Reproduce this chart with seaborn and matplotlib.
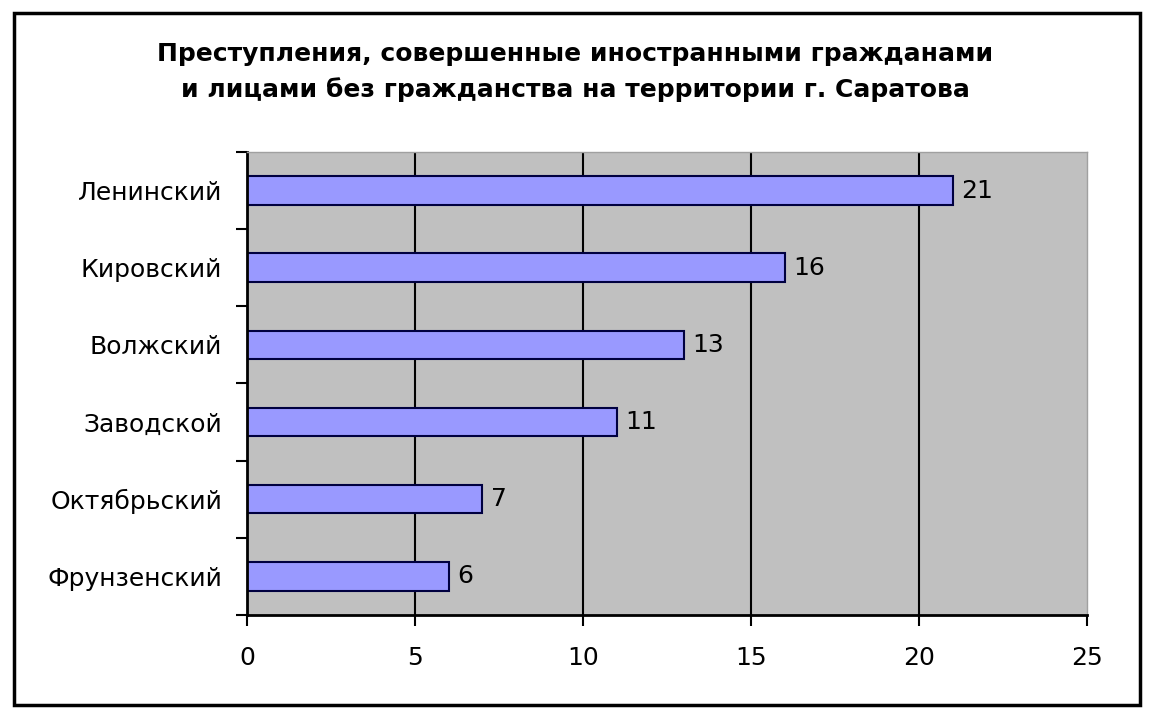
import matplotlib
matplotlib.use("Agg")
import matplotlib.pyplot as plt
import seaborn as sns
import pandas as pd
from matplotlib.patches import Rectangle

districts = ["Ленинский", "Кировский", "Волжский", "Заводской", "Октябрьский", "Фрунзенский"]
counts = [21, 16, 13, 11, 7, 6]
title = "Преступления, совершенные иностранными гражданами\nи лицами без гражданства на территории г. Саратова"

df = pd.DataFrame({"district": districts, "count": counts})

sns.set_style("white")
plt.rcParams['font.family'] = ['DejaVu Sans']
plt.rcParams['text.color'] = 'black'
plt.rcParams['xtick.color'] = 'black'
plt.rcParams['ytick.color'] = 'black'

fig = plt.figure(figsize=(11.5, 7.19), dpi=100)
ax = fig.add_axes([0.2148, 0.1447, 0.7304, 0.6439])
ax.set_facecolor("#c0c0c0")

sns.barplot(data=df, y="district", x="count", orient="h", ax=ax,
            color="#9999ff", edgecolor="#000040", linewidth=1.5, width=0.37,
            saturation=1)

ax.set_xlim(0, 25)
ax.set_ylim(5.5, -0.5)
ax.set_xticks([0, 5, 10, 15, 20, 25])
ax.set_xlabel("")
ax.set_ylabel("")
for x in [5, 10, 15, 20]:
    ax.axvline(x, color="black", lw=1.5, zorder=0.5)
ax.set_axisbelow(True)

ax.tick_params(axis="y", which="major", length=0, pad=18, labelsize=18, left=True,
               labelcolor="black")
ax.set_yticks([i + 0.5 for i in range(-1, 6)], minor=True)
ax.tick_params(axis="y", which="minor", length=8, width=1.5, direction="out",
               color="black", left=True)
ax.tick_params(axis="x", which="major", length=8, width=1.5, direction="out",
               pad=14, labelsize=18, color="black", bottom=True, labelcolor="black")

for s in ["left", "bottom"]:
    ax.spines[s].set_color("black")
    ax.spines[s].set_linewidth(2)
for s in ["top", "right"]:
    ax.spines[s].set_color("#a0a0a0")
    ax.spines[s].set_linewidth(1)

for i, v in enumerate(counts):
    ax.text(v + 0.25, i, str(v), va="center", ha="left", fontsize=18, color="black")

fig.text(0.5, 0.9, title, ha="center", va="center", fontsize=18, fontweight="bold",
         linespacing=1.55, color="black")

fig.patches.append(Rectangle((14/1150, 1 - 705/719), (1140-14)/1150, (705-13)/719,
                             transform=fig.transFigure, fill=False, edgecolor="black", lw=2.5))

fig.savefig("out.png", dpi=100, facecolor="white")
